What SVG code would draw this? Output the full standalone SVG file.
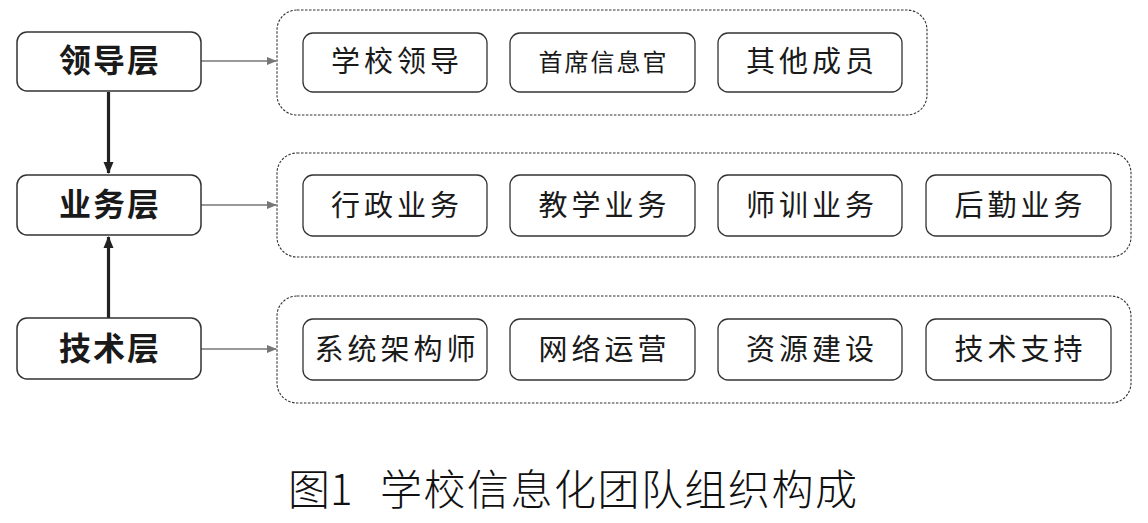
<svg xmlns="http://www.w3.org/2000/svg" width="1148" height="523" viewBox="0 0 1148 523">
<style>
.layer{fill:#fff;stroke:#333;stroke-width:1.5}
.lt{font-family:"Noto Sans CJK SC",sans-serif;font-weight:bold;font-size:32px;fill:#1a1a1a;text-anchor:middle;letter-spacing:2px}
.cont{fill:#fff;stroke:#333;stroke-width:1.1;stroke-dasharray:2.5 1.5}
.item{fill:#fff;stroke:#333;stroke-width:1.3}
.it{font-family:"Noto Sans CJK SC",sans-serif;font-size:29px;fill:#1a1a1a;text-anchor:middle;letter-spacing:4px}
.it2{font-family:"Noto Sans CJK SC",sans-serif;font-size:24px;fill:#1a1a1a;text-anchor:middle;letter-spacing:2px}
.cap{font-family:"Noto Sans CJK SC",sans-serif;font-size:42px;fill:#111;font-weight:300}
.thin{stroke:#777;stroke-width:1.3;fill:none}
.thick{stroke:#222;stroke-width:3.2;fill:none}
</style>
<defs>
<marker id="ag" markerWidth="10" markerHeight="10" refX="9" refY="5" orient="auto" markerUnits="userSpaceOnUse">
<path d="M0,1 L10,5 L0,9 Z" fill="#777"/>
</marker>
<marker id="ab" markerWidth="12" markerHeight="12" refX="11" refY="6" orient="auto" markerUnits="userSpaceOnUse">
<path d="M0,1 L12,6 L0,11 Z" fill="#222"/>
</marker>
</defs>
<rect width="1148" height="523" fill="#fff"/>
<g id="connectors">
<line class="thin" x1="201" y1="61" x2="276" y2="61" marker-end="url(#ag)"/>
<line class="thin" x1="201" y1="205" x2="276" y2="205" marker-end="url(#ag)"/>
<line class="thin" x1="201" y1="349" x2="276" y2="349" marker-end="url(#ag)"/>
<line class="thick" x1="108.5" y1="92" x2="108.5" y2="173" marker-end="url(#ab)"/>
<line class="thick" x1="108.5" y1="318" x2="108.5" y2="237" marker-end="url(#ab)"/>
</g>
<g id="group-leader">
<rect class="cont" x="277" y="10" width="650" height="105" rx="20"/>
</g>
<g id="group-business">
<rect class="cont" x="277" y="153" width="854" height="104" rx="20"/>
</g>
<g id="group-tech">
<rect class="cont" x="277" y="296" width="854" height="107" rx="20"/>
</g>
<g id="layer-leader"><rect class="layer" x="17" y="32" width="184" height="59" rx="10"/><text class="lt" x="110" y="72">领导层</text></g>
<g id="layer-business"><rect class="layer" x="17" y="175" width="184" height="60" rx="10"/><text class="lt" x="110" y="216">业务层</text></g>
<g id="layer-tech"><rect class="layer" x="17" y="318" width="184" height="61" rx="10"/><text class="lt" x="110" y="360">技术层</text></g>
<g id="n-xxld"><rect class="item" x="303" y="33" width="184" height="59" rx="10"/><text class="it" x="397" y="72">学校领导</text></g>
<g id="n-sxxxg"><rect class="item" x="510" y="33" width="185" height="59" rx="10"/><text class="it2" x="603.5" y="71">首席信息官</text></g>
<g id="n-qtcy"><rect class="item" x="718" y="33" width="184" height="59" rx="10"/><text class="it" x="812" y="72">其他成员</text></g>
<g id="n-xzyw"><rect class="item" x="303" y="175" width="184" height="61" rx="10"/><text class="it" x="397" y="216">行政业务</text></g>
<g id="n-jxyw"><rect class="item" x="510" y="175" width="185" height="61" rx="10"/><text class="it" x="604.5" y="216">教学业务</text></g>
<g id="n-sxyw"><rect class="item" x="718" y="175" width="184" height="61" rx="10"/><text class="it" x="812" y="216">师训业务</text></g>
<g id="n-hqyw"><rect class="item" x="926" y="175" width="185" height="61" rx="10"/><text class="it" x="1020.5" y="216">后勤业务</text></g>
<g id="n-xtjgs"><rect class="item" x="303" y="319" width="184" height="61" rx="10"/><text class="it" x="397" y="360" letter-spacing="2">系统架构师</text></g>
<g id="n-wlyy"><rect class="item" x="510" y="319" width="185" height="61" rx="10"/><text class="it" x="604.5" y="360">网络运营</text></g>
<g id="n-zyjs"><rect class="item" x="718" y="319" width="184" height="61" rx="10"/><text class="it" x="812" y="360">资源建设</text></g>
<g id="n-jszc"><rect class="item" x="926" y="319" width="185" height="61" rx="10"/><text class="it" x="1020.5" y="360">技术支持</text></g>
<g id="caption">
<text class="cap" x="288" y="505">图1</text>
<text class="cap" x="380" y="505" letter-spacing="1.5">学校信息化团队组织构成</text>
</g>
</svg>
